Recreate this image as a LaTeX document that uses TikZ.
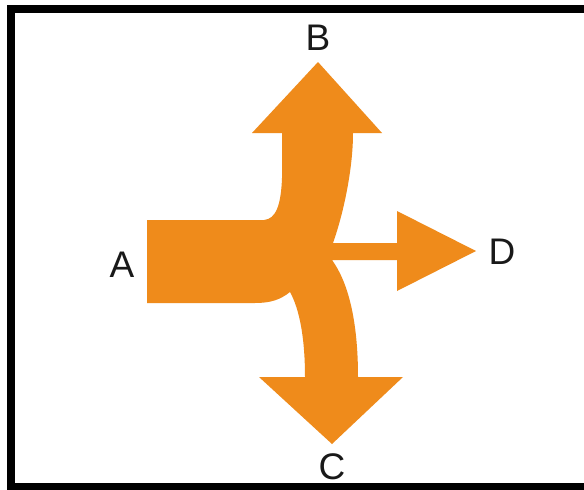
\documentclass[tikz,border=0pt]{standalone}
\usepackage{fontspec}
\setmainfont{Liberation Sans}
\definecolor{arroworange}{RGB}{239,139,27}
\begin{document}
\begin{tikzpicture}[x=1pt,y=-1pt,
  lbl/.style={font=\fontsize{37}{40}\selectfont, text=black!90, inner sep=0pt},
  shapefill/.style={fill=arroworange, draw=none}]
\useasboundingbox (0,0) rectangle (584,490);
\fill[white] (0,0) rectangle (584,490);
% frame
\fill[black] (7,5) rectangle (584,13);
\fill[black] (7,5) rectangle (15,490);
\fill[black] (7,483) rectangle (584,490);
% main shape
\path[shapefill]
  (147,220) -- (264,220)
  .. controls (276,219) and (281,205) .. (282,178)
  -- (282,133) -- (252,133) -- (318,62) -- (382,133) -- (353,133)
  .. controls (353,170) and (343,215) .. (333,243)
  -- (397,243) -- (397,211) -- (476,251) -- (397,291) -- (397,260) -- (332,260)
  .. controls (348,282) and (358,320) .. (358,377)
  -- (403,377) -- (332,444) -- (259,377) -- (305,377)
  .. controls (305,340) and (300,310) .. (290,292)
  .. controls (280,300) and (270,303) .. (255,303)
  -- (147,303) -- cycle;
% labels
\node[lbl] (A) at (122,265) {A};
\node[lbl] (B) at (318,38) {B};
\node[lbl] (C) at (332,467) {C};
\node[lbl] (D) at (502,252) {D};
\end{tikzpicture}
\end{document}
